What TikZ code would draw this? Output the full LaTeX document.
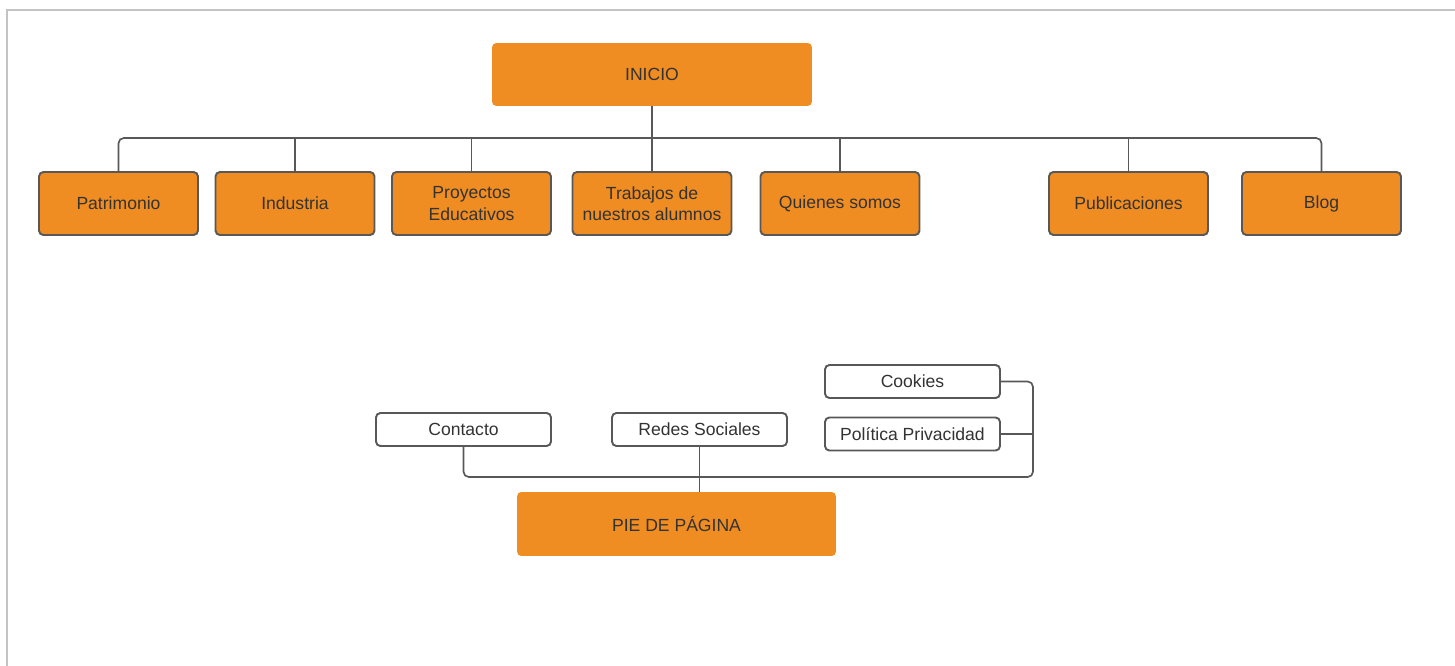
\documentclass[tikz,border=0pt]{standalone}
\usepackage{fontspec}
\setmainfont{Liberation Sans}
\usetikzlibrary{positioning, calc}
\definecolor{naranja}{RGB}{239,140,34}
\definecolor{borde}{RGB}{88,88,88}
\definecolor{texto}{RGB}{51,51,51}
\definecolor{marco}{RGB}{195,195,195}

\begin{document}
\begin{tikzpicture}[x=0.02cm,y=-0.02cm,
    caja/.style={draw=borde, line width=1.1pt, fill=naranja, rounded corners=2.5pt,
        minimum width=3.18cm, minimum height=1.26cm, inner sep=0pt, align=center,
        text=texto, font=\fontsize{10}{12}\selectfont},
    titulo/.style={fill=naranja, rounded corners=2.5pt, inner sep=0pt,
        text=texto, font=\fontsize{10}{12}\selectfont},
    pie/.style={draw=borde, line width=1.1pt, fill=white, rounded corners=2.5pt,
        minimum width=3.5cm, minimum height=0.66cm, inner sep=0pt,
        text=texto, font=\fontsize{10}{12}\selectfont},
    linea/.style={draw=borde, line width=0.95pt}]
                \useasboundingbox (0,0) rectangle (1455,666);
                \draw[marco, line width=0.6pt] (7,666) -- (7,10) -- (1455,10);
                % menu principal
                \node[titulo, minimum width=6.4cm, minimum height=1.26cm] (inicio) at (652,74.5) {INICIO};
                \node[caja] (patrimonio) at (118.5,203.5) {Patrimonio};
                \node[caja] (industria) at (295,203.5) {Industria};
                \node[caja] (proyectos) at (471.5,203.5) {Proyectos\\Educativos};
                \node[caja] (trabajos) at (652,203.5) {Trabajos de\\nuestros alumnos};
                \node[caja] (quienes) at (840,203.5) {Quienes somos};
                \node[caja] (publicaciones) at (1128.5,203.5) {Publicaciones};
                \node[caja] (blog) at (1321.5,203.5) {Blog};
                \coordinate (bus) at (652,138);
                \draw[linea] (inicio.south) -- (trabajos.north);
                \draw[linea, rounded corners=3pt] (patrimonio.north) |- (bus) -| (blog.north);
                \foreach \n in {industria, proyectos, quienes, publicaciones}
                    \draw[linea] (\n.north) -- (\n.north |- bus);
                % pie de pagina
                \node[titulo, minimum width=6.38cm, minimum height=1.28cm] (piepag) at (676.5,524) {PIE DE PÁGINA};
                \node[pie] (contacto) at (463.5,429.5) {Contacto};
                \node[pie] (redes) at (699.5,429.5) {Redes Sociales};
                \node[pie] (cookies) at (912.5,381.5) {Cookies};
                \node[pie] (politica) at (912.5,434) {Política Privacidad};
                \coordinate (union) at (699.5,477);
                \coordinate (colector) at (1033,477);
                \draw[linea] (redes.south) -- (redes.south |- piepag.north);
                \draw[linea, rounded corners=3pt] (contacto.south) |- (union);
                \draw[linea, rounded corners=3pt] (cookies.east) -| (colector) -- (union);
                \draw[linea] (politica.east) -- (politica.east -| colector);
            \end{tikzpicture}
\end{document}
